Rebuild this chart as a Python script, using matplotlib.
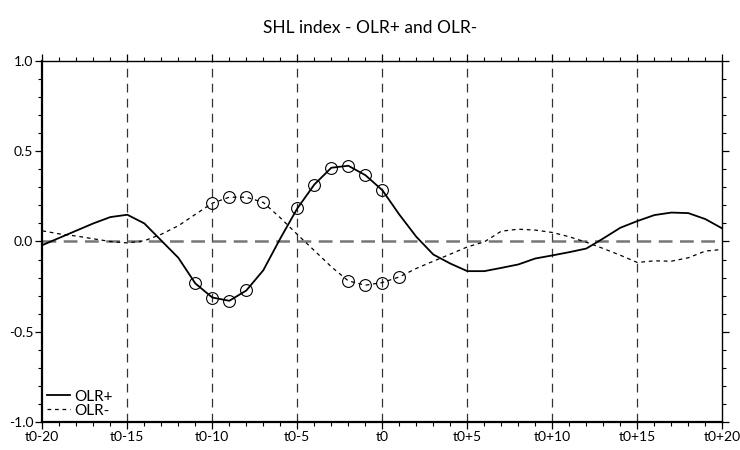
import numpy as np
import matplotlib
matplotlib.use("Agg")
import matplotlib.pyplot as plt

# lag in days relative to t0
days = list(range(-20, 21))

olr_pos = [-0.02, 0.02, 0.06, 0.10, 0.135, 0.148, 0.10, 0.005, -0.09, -0.232,
           -0.31, -0.328, -0.271, -0.159, 0.017, 0.183, 0.315, 0.408, 0.419, 0.367,
           0.284, 0.149, 0.026, -0.072, -0.122, -0.164, -0.164, -0.146, -0.127, -0.094,
           -0.077, -0.059, -0.039, 0.017, 0.076, 0.113, 0.146, 0.16, 0.157, 0.124,
           0.072]
olr_neg = [0.059, 0.042, 0.03, 0.015, 0.0, -0.008, 0.004, 0.04, 0.087, 0.15,
           0.212, 0.245, 0.245, 0.216, 0.131, 0.039, -0.05, -0.14, -0.218, -0.242,
           -0.227, -0.196, -0.149, -0.109, -0.07, -0.03, -0.002, 0.057, 0.068, 0.063,
           0.05, 0.026, -0.004, -0.039, -0.076, -0.116, -0.107, -0.109, -0.09, -0.053,
           -0.044]

# days where the composite is significant (circled)
sig_pos = [-11, -10, -9, -8, -5, -4, -3, -2, -1, 0]
sig_neg = [-10, -9, -8, -7, -2, -1, 0, 1]

xtick_pos = [-20, -15, -10, -5, 0, 5, 10, 15, 20]
xtick_labels = ["t0-20", "t0-15", "t0-10", "t0-5", "t0", "t0+5", "t0+10", "t0+15", "t0+20"]
ytick_pos = [-1.0, -0.5, 0.0, 0.5, 1.0]

plt.rcParams['font.family'] = ['Lato', 'DejaVu Sans']

fig = plt.figure(figsize=(7.4, 4.5), dpi=100)
ax = fig.add_axes([0.0572, 0.0616, 0.9189, 0.8035])

# reference lines
for x in xtick_pos[1:-1]:
    ax.axvline(x, color='#333333', lw=0.9, ls=(0, (7, 5)), zorder=1)
ax.axhline(0, color='#777777', lw=1.8, ls=(0, (5.5, 3)), zorder=1)

l1, = ax.plot(days, olr_pos, color='black', lw=1.3, label='OLR+', zorder=3)
l2, = ax.plot(days, olr_neg, color='black', lw=0.9, ls=(0, (3, 3)), label='OLR-', zorder=3)

# circles on significant days
pos_map = dict(zip(days, olr_pos))
neg_map = dict(zip(days, olr_neg))
ax.plot(sig_pos, [pos_map[d] for d in sig_pos], ls='none', marker='o', ms=8.5,
        mfc='none', mec='black', mew=0.8, zorder=4)
ax.plot(sig_neg, [neg_map[d] for d in sig_neg], ls='none', marker='o', ms=8.5,
        mfc='none', mec='black', mew=0.8, zorder=4)

ax.set_xlim(-20, 20)
ax.set_ylim(-1, 1)
ax.set_xticks(xtick_pos)
ax.set_xticklabels(xtick_labels)
ax.set_xticks(np.arange(-20, 21, 1), minor=True)
ax.set_yticks(ytick_pos)
ax.set_yticklabels(["%.1f" % v for v in ytick_pos])
ax.set_yticks(np.arange(-1, 1.01, 0.1), minor=True)
ax.tick_params(which='both', direction='out', top=True, right=True, labelsize=10, pad=1.5)
ax.tick_params(which='major', length=5, width=0.9)
ax.tick_params(which='minor', length=3, width=0.8)
for side in ['left', 'bottom']:
    ax.spines[side].set_linewidth(1.6)
for side in ['top', 'right']:
    ax.spines[side].set_linewidth(1.0)

ax.legend(handles=[l1, l2], loc='lower left', frameon=False, fontsize=11,
          handlelength=1.5, handletextpad=0.3, labelspacing=0.0,
          borderaxespad=0.2, borderpad=0.1)

fig.suptitle("SHL index - OLR+ and OLR-", y=0.955, fontsize=12.5)

fig.savefig("out.png", dpi=100)
